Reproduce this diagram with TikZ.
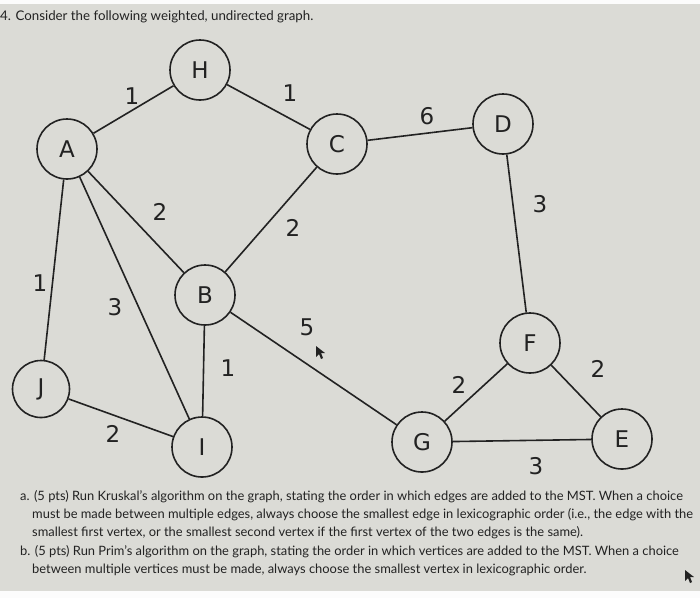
\documentclass[tikz,border=0pt]{standalone}
\usepackage{fontspec}
\setmainfont{Lato}
\newfontfamily\graphfont{DejaVu Sans}
\definecolor{paper}{RGB}{219,219,214}
\definecolor{ink}{RGB}{34,34,34}
\tikzset{
  vtx/.style={circle, draw=ink, line width=1.6pt, fill=paper, minimum size=60pt,
    inner sep=0pt, font=\graphfont\fontsize{23}{23}\selectfont, text=ink},
  wt/.style={font=\graphfont\fontsize{23}{23}\selectfont, text=ink},
  edge/.style={draw=ink, line width=1.6pt},
  txtline/.style={anchor=west, inner sep=0pt, font=\fontsize{12.9}{15}\selectfont, text=ink}
}
\begin{document}
\begin{tikzpicture}[x=1pt, y=-1pt]
  \useasboundingbox (0,0) rectangle (700,598);
  \fill[paper] (0,0) rectangle (700,598);
  \fill[white!92!paper] (0,0) rectangle (700,4);
  \fill[white!92!paper] (0,591) rectangle (700,598);

  % question
  \node[txtline, font=\fontsize{13.3}{15}\selectfont] (title) at (0,17) {4. Consider the following weighted, undirected graph.};

  % vertices
  \node[vtx] (H) at (200,70) {H};
  \node[vtx] (A) at (67,149) {A};
  \node[vtx] (C) at (337,144) {C};
  \node[vtx] (D) at (503,124) {D};
  \node[vtx] (B) at (205,295) {B};
  \node[vtx, minimum size=57pt] (J) at (41,389) {J};
  \node[vtx] (I) at (202,447) {I};
  \node[vtx] (F) at (530,343) {F};
  \node[vtx] (G) at (422,442) {G};
  \node[vtx] (E) at (622,439) {E};

  % edges
  \draw[edge] (A) -- (H);
  \draw[edge] (H) -- (C);
  \draw[edge] (C) -- (D);
  \draw[edge] (A) -- (B);
  \draw[edge] (C) -- (B);
  \draw[edge] (A) -- (J);
  \draw[edge] (A) -- (I);
  \draw[edge] (B) -- (I);
  \draw[edge] (B) -- (G);
  \draw[edge] (J) -- (I);
  \draw[edge] (D) -- (F);
  \draw[edge] (F) -- (G);
  \draw[edge] (F) -- (E);
  \draw[edge] (G) -- (E);

  % weights
  \node[wt] (wAH) at (132,96) {1};
  \node[wt] (wHC) at (290,93) {1};
  \node[wt] (wCD) at (427,116) {6};
  \node[wt] (wAB) at (160,212) {2};
  \node[wt] (wCB) at (293,228) {2};
  \node[wt] (wAJ) at (40,283) {1};
  \node[wt] (wAI) at (115,307) {3};
  \node[wt] (wBI) at (228,368) {1};
  \node[wt] (wBG) at (307,327) {5};
  \node[wt] (wJI) at (113,434) {2};
  \node[wt] (wDF) at (540,204) {3};
  \node[wt] (wFG) at (459,385) {2};
  \node[wt] (wFE) at (598,369) {2};
  \node[wt] (wGE) at (536,466) {3};

  % pointers
  \fill[ink] (316,346) -- (316,357) -- (319,354) -- (321,359) -- (323,358) -- (321,353) -- (325,353) -- cycle;
  \fill[ink] (685,570) -- (685,581) -- (688,578) -- (690,583) -- (692,582) -- (690,577) -- (694,577) -- cycle;

  % parts a and b
  \node[txtline] (a1) at (20,497) {a. (5 pts) Run Kruskal's algorithm on the graph, stating the order in which edges are added to the MST. When a choice};
  \node[txtline] (a2) at (32,515) {must be made between multiple edges, always choose the smallest edge in lexicographic order (i.e., the edge with the};
  \node[txtline] (a3) at (32,533) {smallest first vertex, or the smallest second vertex if the first vertex of the two edges is the same).};
  \node[txtline] (b1) at (20,552) {b. (5 pts) Run Prim's algorithm on the graph, stating the order in which vertices are added to the MST. When a choice};
  \node[txtline] (b2) at (32,570) {between multiple vertices must be made, always choose the smallest vertex in lexicographic order.};
\end{tikzpicture}
\end{document}
